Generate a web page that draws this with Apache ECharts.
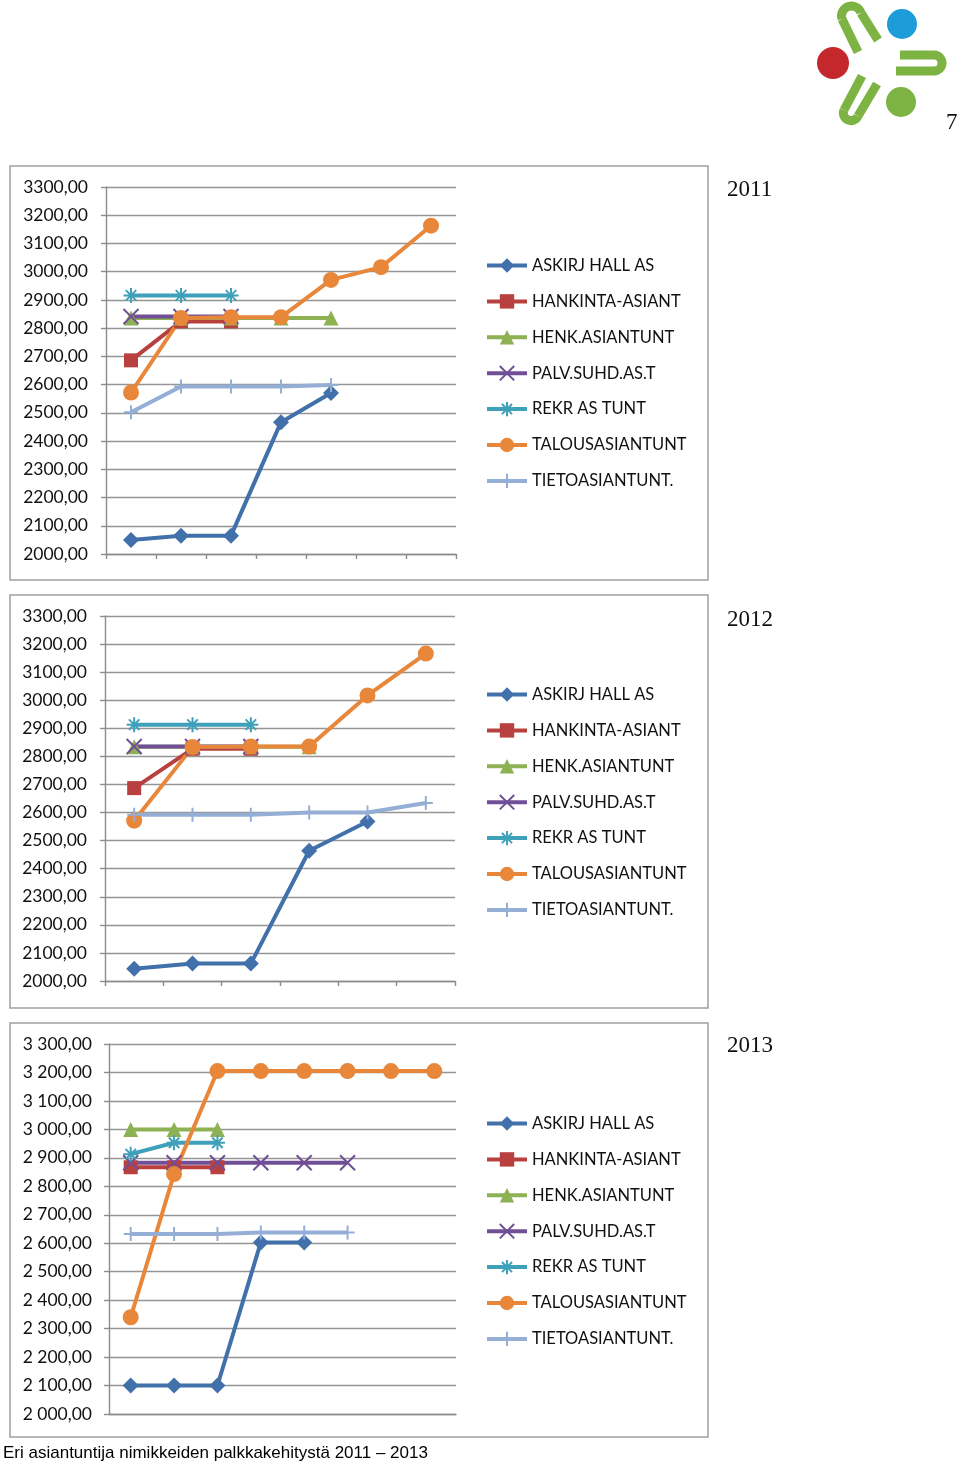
<!DOCTYPE html>
<html>
<head>
<meta charset="utf-8">
<script src="https://cdn.jsdelivr.net/npm/echarts@6/dist/echarts.min.js"></script>
<style>
html,body{margin:0;padding:0;background:#fff;}
#chart{width:960px;height:1467px;}
</style>
</head>
<body>
<div id="chart"></div>
<script>
// ---- data ----
const seriesNames = ['ASKIRJ HALL AS','HANKINTA-ASIANT','HENK.ASIANTUNT','PALV.SUHD.AS.T','REKR AS TUNT','TALOUSASIANTUNT','TIETOASIANTUNT.'];
const years = ['2011','2012','2013'];

const categories2011 = ['1','2','3','4','5','6','7'];
const askirj2011   = [2050, 2065, 2065, 2467, 2570, null, null];
const hankinta2011 = [2686, 2824, 2824, null, null, null, null];
const henk2011     = [2836, 2836, 2836, 2836, 2836, null, null];
const palv2011     = [2841, 2841, 2841, null, null, null, null];
const rekr2011     = [2916, 2916, 2916, null, null, null, null];
const talous2011   = [2572, 2836, 2839, 2839, 2971, 3016, 3163];
const tieto2011    = [2502, 2593, 2593, 2593, 2599, null, null];

const categories2012 = ['1','2','3','4','5','6'];
const askirj2012   = [2044, 2062, 2062, 2464, 2568, null];
const hankinta2012 = [2687, 2827, 2827, null, null, null];
const henk2012     = [2834, 2834, 2834, 2834, null, null];
const palv2012     = [2835, 2835, 2835, null, null, null];
const rekr2012     = [2913, 2913, 2913, null, null, null];
const talous2012   = [2571, 2833, 2835, 2835, 3017, 3166];
const tieto2012    = [2592, 2592, 2592, 2600, 2600, 2634];

const categories2013 = ['1','2','3','4','5','6','7','8'];
const askirj2013   = [2100, 2100, 2100, 2603, 2603, null, null, null];
const hankinta2013 = [2867, 2867, 2867, null, null, null, null, null];
const henk2013     = [3000, 3000, 3000, null, null, null, null, null];
const palv2013     = [2883, 2883, 2883, 2883, 2883, 2883, null, null];
const rekr2013     = [2913, 2953, 2953, null, null, null, null, null];
const talous2013   = [2340, 2843, 3205, 3205, 3205, 3205, 3205, 3205];
const tieto2013    = [2632, 2632, 2632, 2638, 2638, 2638, null, null];

const yMin = 2000, yMax = 3300, yStep = 100;
const footerText = 'Eri asiantuntija nimikkeiden palkkakehitystä 2011 – 2013';
const pageNumber = '7';

// ---- styles ----
const colors = ['#4170AA','#B8403E','#8DB153','#704F96','#3FA0BA','#E8863A','#95AED6'];
const symbols = [
  'diamond',
  'rect',
  'triangle',
  'path://M0,0L10,10M10,0L0,10',
  'path://M0,5L10,5M5,0L5,10M1.5,1.5L8.5,8.5M8.5,1.5L1.5,8.5',
  'circle',
  'path://M0,5L10,5M5,0L5,10'
];
const symbolSizes = [16, 14, 15, 15, 15, 16, 14];
const strokeSymbols = [false,false,false,true,true,false,true];

const panelData = [
  [askirj2011,hankinta2011,henk2011,palv2011,rekr2011,talous2011,tieto2011],
  [askirj2012,hankinta2012,henk2012,palv2012,rekr2012,talous2012,tieto2012],
  [askirj2013,hankinta2013,henk2013,palv2013,rekr2013,talous2013,tieto2013]
];
const panelCats = [categories2011, categories2012, categories2013];

const gridBoxes = [
  {left:106, top:187, width:350, height:367},
  {left:105, top:616, width:350, height:365},
  {left:109, top:1044, width:347, height:370}
];
const panelRects = [
  {x:10, y:166, w:698, h:414},
  {x:10, y:595, w:698, h:413},
  {x:10, y:1023, w:698, h:414}
];
const legendTops = [257, 686, 1115];
const yearTops = [178, 608, 1034];

const fmtPlain = v => v.toFixed(2).replace('.', ',');
const fmtSpace = v => {
  const s = v.toFixed(2).replace('.', ',');
  const parts = s.split(',');
  return parts[0].replace(/\B(?=(\d{3})+(?!\d))/g, ' ') + ',' + parts[1];
};
const labelFmts = [fmtPlain, fmtPlain, fmtSpace];
const labelMargins = [18, 18, 17];

const grid = [], xAxis = [], yAxis = [], series = [], legend = [], graphic = [];
for (let p = 0; p < 3; p++) {
  grid.push(Object.assign({containLabel:false}, gridBoxes[p]));
  xAxis.push({
    type:'category', gridIndex:p, data:panelCats[p], boundaryGap:true,
    axisLine:{show:true, lineStyle:{color:'#8c8c8c', width:1.4}},
    axisTick:{show:p < 2, length:5, inside:false, lineStyle:{color:'#8c8c8c', width:1.4}},
    axisLabel:{show:false}, splitLine:{show:false}
  });
  yAxis.push({
    type:'value', gridIndex:p, min:yMin, max:yMax, interval:yStep,
    axisLine:{show:true, lineStyle:{color:'#8c8c8c', width:1.4}},
    axisTick:{show:true, length:5, lineStyle:{color:'#8c8c8c', width:1.4}},
    axisLabel:{formatter:labelFmts[p], fontFamily:'Lato', fontSize:17.5, color:'#111', margin:labelMargins[p]},
    splitLine:{show:true, lineStyle:{color:'#959595', width:1.4}}
  });
  for (let s = 0; s < 7; s++) {
    const c = colors[s];
    series.push({
      type:'line', name:seriesNames[s], xAxisIndex:p, yAxisIndex:p,
      data:panelData[p][s], connectNulls:false,
      symbol:symbols[s], symbolSize:symbolSizes[s], showAllSymbol:true,
      lineStyle:{color:c, width:4},
      itemStyle: strokeSymbols[s]
        ? {color:c, borderColor:c, borderWidth:2}
        : {color:c, borderColor:c, borderWidth:0},
      emphasis:{disabled:true},
      animation:false
    });
  }
  legend.push({
    orient:'vertical', left:485, top:legendTops[p], padding:0,
    itemWidth:40, itemHeight:18, itemGap:18.9,
    data:seriesNames, selectedMode:false,
    lineStyle:{width:4},
    textStyle:{fontFamily:'Lato', fontSize:16.5, color:'#111'}
  });
  const r = panelRects[p];
  graphic.push({type:'rect', shape:{x:r.x, y:r.y, width:r.w, height:r.h},
    style:{fill:'none', stroke:'#a0a0a0', lineWidth:1.5}, silent:true, z:-1});
  graphic.push({type:'text', x:727, y:yearTops[p],
    style:{text:years[p], font:'23px "Liberation Serif"', fill:'#111'}});
}

// logo
const logoGreen = '#7DB343';
const deg = Math.PI / 180;
const g = (o) => Object.assign({silent:true}, o);
const stroke = {fill:'none', stroke:logoGreen, lineWidth:9};
graphic.push(
  g({type:'circle', shape:{cx:833, cy:63, r:16}, style:{fill:'#C4272C'}}),
  g({type:'circle', shape:{cx:902, cy:24, r:15}, style:{fill:'#1C9CD8'}}),
  g({type:'circle', shape:{cx:901, cy:102, r:15}, style:{fill:logoGreen}}),
  // top hairpin
  g({type:'line', shape:{x1:842, y1:19, x2:858, y2:52}, style:stroke}),
  g({type:'line', shape:{x1:861, y1:13, x2:878, y2:40}, style:stroke}),
  g({type:'arc', shape:{cx:851.5, cy:16, r:10, startAngle:162.5*deg, endAngle:342.5*deg, clockwise:true}, style:stroke}),
  // right hairpin
  g({type:'line', shape:{x1:900, y1:55, x2:934, y2:55}, style:stroke}),
  g({type:'line', shape:{x1:896, y1:71, x2:934, y2:71}, style:stroke}),
  g({type:'arc', shape:{cx:934, cy:63, r:8, startAngle:-90*deg, endAngle:90*deg, clockwise:true}, style:stroke}),
  // bottom hairpin
  g({type:'line', shape:{x1:862, y1:76, x2:844, y2:110}, style:stroke}),
  g({type:'line', shape:{x1:877, y1:84, x2:858, y2:116}, style:stroke}),
  g({type:'arc', shape:{cx:851, cy:113, r:7.6, startAngle:23.2*deg, endAngle:203.2*deg, clockwise:true}, style:stroke}),
  g({type:'text', x:946, y:111, style:{text:pageNumber, font:'23px "Liberation Serif"', fill:'#111'}}),
  g({type:'text', x:3, y:1445, style:{text:footerText, font:'17px "Liberation Sans"', fill:'#000'}})
);

const chart = echarts.init(document.getElementById('chart'), null, {renderer:'canvas'});
chart.setOption({
  animation:false,
  backgroundColor:'#fff',
  grid: grid, xAxis: xAxis, yAxis: yAxis, series: series, legend: legend, graphic: graphic
});
</script>
</body>
</html>
